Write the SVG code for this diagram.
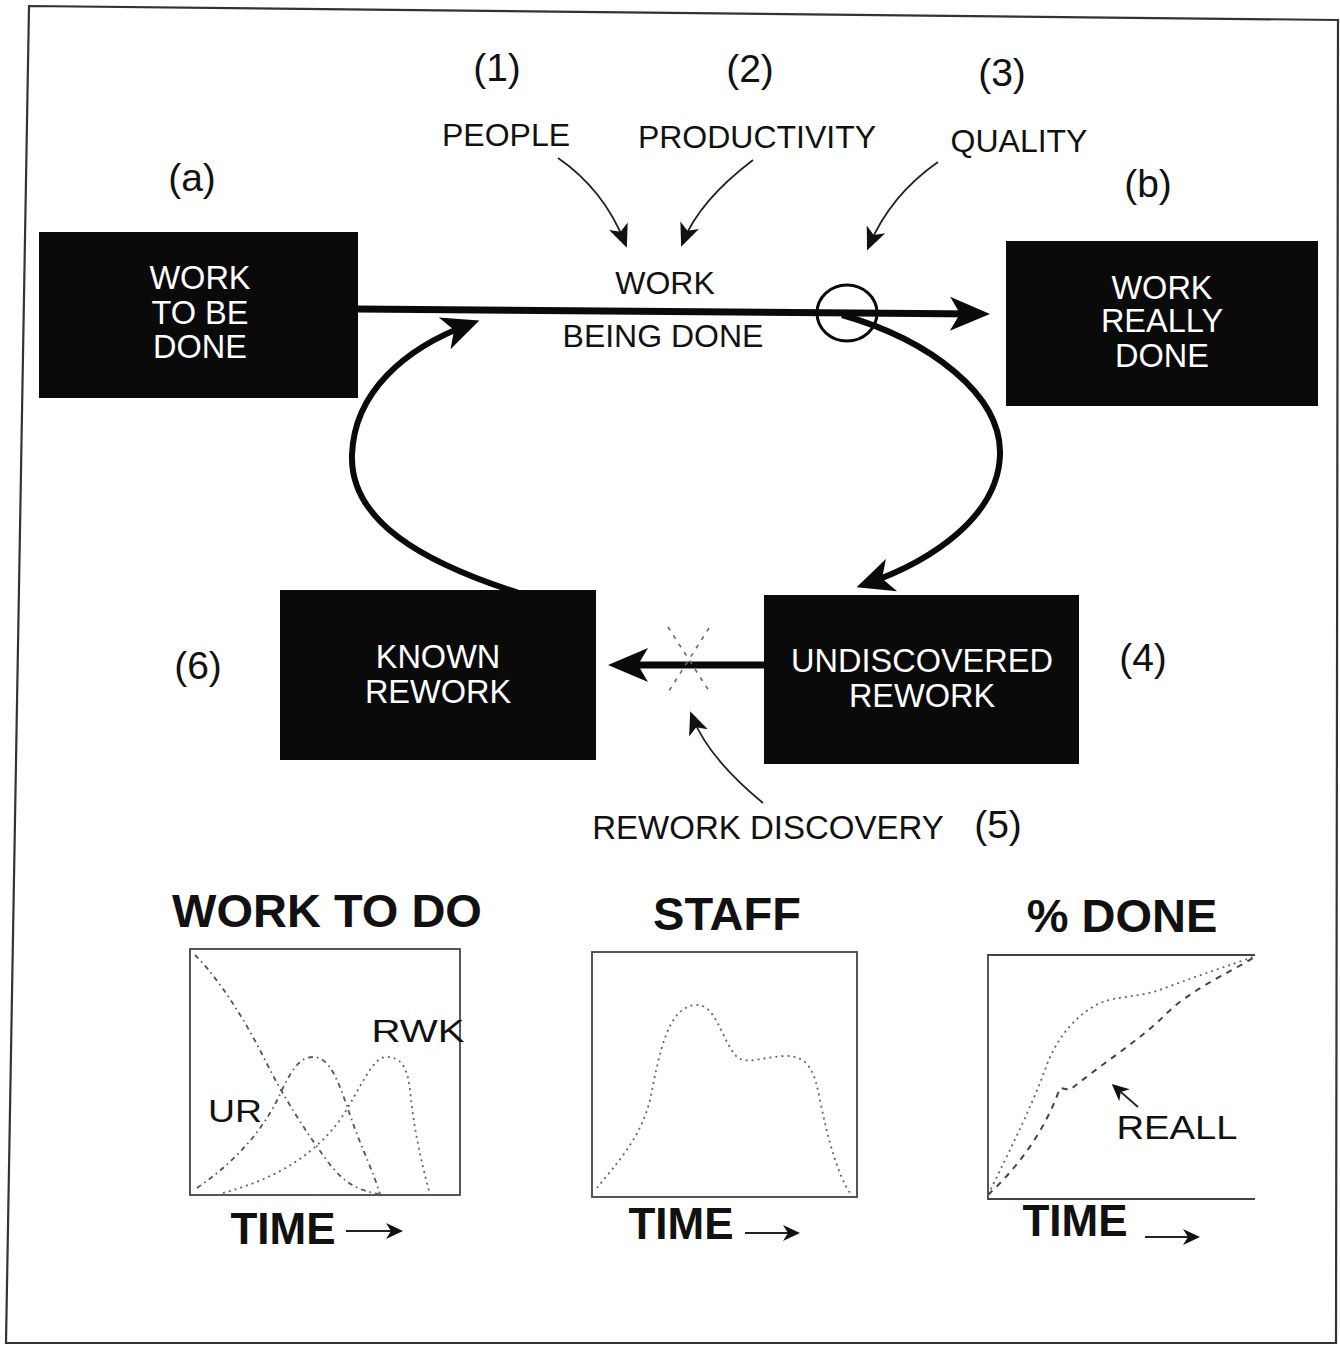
<svg xmlns="http://www.w3.org/2000/svg" width="1340" height="1347" viewBox="0 0 1340 1347">
  <style>
    .lbl { font-family: "Liberation Sans", Arial, sans-serif; fill: #111; text-anchor: middle; }
    .num { font-size: 39px; }
    .var { font-size: 32px; }
    .box-text { font-family: "Liberation Sans", Arial, sans-serif; font-size: 32.5px; fill: #fff; text-anchor: middle; }
    .head { font-family: "Liberation Sans", Arial, sans-serif; font-weight: bold; font-size: 47px; fill: #111; text-anchor: middle; }
    .time { font-family: "Liberation Sans", Arial, sans-serif; font-weight: bold; font-size: 44px; fill: #111; text-anchor: middle; }
    .stock { fill: #0a0a0a; }
    .flow { fill: none; stroke: #0a0a0a; stroke-width: 7; }
    .loop { fill: none; stroke: #0a0a0a; stroke-width: 6; }
    .thin { fill: none; stroke: #222; stroke-width: 1.8; }
    .axes { fill: none; stroke: #444; stroke-width: 1.8; }
    .c-dashdot { fill: none; stroke: #555; stroke-width: 1.8; stroke-dasharray: 5 4 1.5 4; }
    .c-dot { fill: none; stroke: #666; stroke-width: 1.8; stroke-dasharray: 2 4; }
    .c-dash { fill: none; stroke: #444; stroke-width: 2; stroke-dasharray: 6 6; }
  </style>
  <defs>
    <marker id="big" markerUnits="userSpaceOnUse" viewBox="-32 -20 48 40" markerWidth="48" markerHeight="40" refX="0" refY="0" orient="auto">
      <path d="M12,0 L-28,-17 L-18,0 L-28,17 Z" fill="#0a0a0a"/>
    </marker>
    <marker id="mid" markerUnits="userSpaceOnUse" viewBox="-32 -20 48 40" markerWidth="48" markerHeight="40" refX="0" refY="0" orient="auto">
      <path d="M10,0 L-27,-17 L-17,0 L-27,17 Z" fill="#0a0a0a"/>
    </marker>
    <marker id="small" markerUnits="userSpaceOnUse" viewBox="-24 -12 32 24" markerWidth="32" markerHeight="24" refX="0" refY="0" orient="auto">
      <path d="M5,0 L-18,-10 L-12,0 L-18,10 Z" fill="#111"/>
    </marker>
    <marker id="tiny" markerUnits="userSpaceOnUse" viewBox="-20 -10 26 20" markerWidth="26" markerHeight="20" refX="0" refY="0" orient="auto">
      <path d="M3,0 L-14,-8 L-9,0 L-14,8 Z" fill="#111"/>
    </marker>
  </defs>

  <rect width="1340" height="1347" fill="#fff"/>

  <!-- page frame -->
  <polygon points="29,6 1338,20 1336,1343 6,1343" fill="none" stroke="#333" stroke-width="2.2"/>

  <!-- stocks -->
  <g id="work-to-be-done">
    <rect class="stock" x="39" y="232" width="319" height="166"/>
    <text class="box-text" x="200" y="289">WORK</text>
    <text class="box-text" x="200" y="324">TO BE</text>
    <text class="box-text" x="200" y="358">DONE</text>
  </g>
  <g id="work-really-done">
    <rect class="stock" x="1006" y="241" width="312" height="165"/>
    <text class="box-text" x="1162" y="299">WORK</text>
    <text class="box-text" x="1162" y="332">REALLY</text>
    <text class="box-text" x="1162" y="367">DONE</text>
  </g>
  <g id="known-rework">
    <rect class="stock" x="280" y="590" width="316" height="170"/>
    <text class="box-text" x="438" y="668">KNOWN</text>
    <text class="box-text" x="438" y="703">REWORK</text>
  </g>
  <g id="undiscovered-rework">
    <rect class="stock" x="764" y="595" width="315" height="169"/>
    <text class="box-text" x="922" y="672">UNDISCOVERED</text>
    <text class="box-text" x="922" y="707">REWORK</text>
  </g>

  <!-- labels -->
  <g id="labels">
    <text class="lbl num" x="497" y="81">(1)</text>
    <text class="lbl num" x="750" y="82">(2)</text>
    <text class="lbl num" x="1002" y="86">(3)</text>
    <text class="lbl num" x="192" y="191">(a)</text>
    <text class="lbl num" x="1148" y="197">(b)</text>
    <text class="lbl num" x="198" y="679">(6)</text>
    <text class="lbl num" x="1143" y="671">(4)</text>
    <text class="lbl num" x="998" y="838">(5)</text>
    <text class="lbl var" x="506" y="146">PEOPLE</text>
    <text class="lbl var" x="757" y="148">PRODUCTIVITY</text>
    <text class="lbl var" x="1019" y="152">QUALITY</text>
    <text class="lbl var" x="665" y="294">WORK</text>
    <text class="lbl var" x="663" y="347">BEING DONE</text>
    <text class="lbl" x="768" y="839" font-size="33">REWORK DISCOVERY</text>
  </g>

  <!-- connectors -->
  <g id="connectors">
    <path class="flow" d="M358,309 L978,314" marker-end="url(#big)"/>
    <ellipse cx="847" cy="313" rx="30" ry="28" fill="none" stroke="#0a0a0a" stroke-width="3"/>
    <path class="loop" d="M842,315 C930,340 1002,395 1000,455 C998,515 935,560 866,584" marker-end="url(#mid)"/>
    <path class="loop" d="M522,594 C420,562 350,520 352,455 C354,392 405,348 470,324" marker-end="url(#mid)"/>
    <path class="flow" d="M764,665 L620,665" marker-end="url(#big)"/>
    <g stroke="#666" stroke-width="1.6" stroke-dasharray="4 6">
      <line x1="668" y1="627" x2="711" y2="694"/>
      <line x1="709" y1="628" x2="667" y2="694"/>
    </g>
    <path class="thin" d="M558,158 C590,180 612,210 625,243" marker-end="url(#small)"/>
    <path class="thin" d="M753,160 C720,185 695,212 683,242" marker-end="url(#small)"/>
    <path class="thin" d="M938,162 C905,185 882,215 869,246" marker-end="url(#small)"/>
    <path class="thin" d="M763,803 C735,780 705,750 692,716" marker-end="url(#small)"/>
  </g>

  <!-- chart: work to do -->
  <g id="chart-work-to-do">
    <text class="head" x="327" y="927">WORK TO DO</text>
    <rect class="axes" x="190" y="949" width="270" height="246"/>
    <path class="c-dashdot" d="M195,955 C220,980 245,1020 265,1060 S305,1130 325,1158 S360,1190 378,1194"/>
    <path class="c-dashdot" d="M197,1188 C230,1165 262,1135 282,1090 C295,1062 304,1057 313,1057 C330,1057 338,1080 350,1115 C362,1150 375,1175 380,1195"/>
    <path class="c-dot" d="M223,1193 C270,1180 310,1160 340,1120 C360,1090 372,1057 386,1057 C400,1057 407,1065 410,1090 C415,1140 425,1175 430,1195"/>
    <text class="lbl" x="418" y="1042" font-size="32" textLength="93" lengthAdjust="spacingAndGlyphs">RWK</text>
    <text class="lbl" x="235" y="1122" font-size="32" textLength="54" lengthAdjust="spacingAndGlyphs">UR</text>
    <text class="time" x="283" y="1244">TIME</text>
    <path class="thin" d="M346,1231 L400,1231" marker-end="url(#tiny)"/>
  </g>

  <!-- chart: staff -->
  <g id="chart-staff">
    <text class="head" x="727" y="930">STAFF</text>
    <rect class="axes" x="592" y="952" width="265" height="245"/>
    <path class="c-dot" d="M597,1188 C615,1165 640,1140 650,1100 C660,1050 668,1008 695,1005 C715,1003 720,1035 735,1055 C745,1066 760,1057 785,1056 C810,1055 815,1075 820,1100 C828,1140 838,1175 850,1193"/>
    <text class="time" x="681" y="1239">TIME</text>
    <path class="thin" d="M745,1233 L797,1233" marker-end="url(#tiny)"/>
  </g>

  <!-- chart: percent done -->
  <g id="chart-pct-done">
    <text class="head" x="1122" y="932">% DONE</text>
    <path class="axes" d="M1255,955 L988,955 L988,1199 L1255,1199"/>
    <path class="c-dot" d="M988,1195 C1010,1150 1030,1110 1045,1070 C1055,1040 1075,1015 1100,1003 C1120,995 1140,998 1165,988 C1200,975 1230,965 1253,957"/>
    <path class="c-dash" d="M988,1195 C1020,1165 1045,1130 1060,1088 L1070,1090 C1100,1065 1140,1040 1165,1015 C1190,990 1225,975 1253,958"/>
    <path class="thin" d="M1138,1107 L1114,1086" marker-end="url(#tiny)"/>
    <text class="lbl" x="1177" y="1139" font-size="33" textLength="121" lengthAdjust="spacingAndGlyphs">REALL</text>
    <text class="time" x="1075" y="1236">TIME</text>
    <path class="thin" d="M1145,1237 L1197,1237" marker-end="url(#tiny)"/>
  </g>
</svg>
